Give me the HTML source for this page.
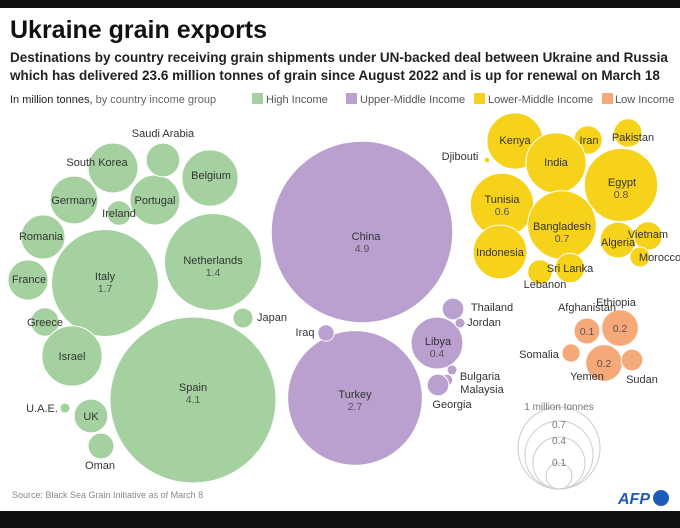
<!DOCTYPE html>
<html><head><meta charset="utf-8"><style>
body{margin:0;width:680px;height:528px;background:#fff;overflow:hidden;font-family:"Liberation Sans",sans-serif}
#top{position:absolute;left:0;top:0;width:680px;height:8px;background:#111}
#bot{position:absolute;left:0;top:511px;width:680px;height:17px;background:#111}
svg{position:absolute;left:0;top:0}
</style></head><body>
<div id="top"></div>
<svg id="chart" width="680" height="528">
<text x="10" y="38" font-size="25" font-weight="bold" fill="#111">Ukraine grain exports</text>
<text x="10" y="62" font-size="13.5" font-weight="bold" fill="#222">Destinations by country receiving grain shipments under UN-backed deal between Ukraine and Russia</text>
<text x="10" y="80" font-size="13.5" font-weight="bold" fill="#222">which has delivered 23.6 million tonnes of grain since August 2022 and is up for renewal on March 18</text>
<g font-size="11" fill="#555">
<text x="10" y="103" fill="#222">In million tonnes, <tspan fill="#666">by country income group</tspan></text>
<rect x="252" y="93" width="11" height="11" fill="#a5d0a0"/><text x="266" y="103">High Income</text>
<rect x="346" y="93" width="11" height="11" fill="#b9a0cf"/><text x="360" y="103">Upper-Middle Income</text>
<rect x="474" y="93" width="11" height="11" fill="#f6d21a"/><text x="488" y="103">Lower-Middle Income</text>
<rect x="602" y="93" width="11" height="11" fill="#f5a878"/><text x="615" y="103">Low Income</text>
</g>
<g id="bubbles"></g>
<g fill="none" stroke="#ccc">
<circle cx="559" cy="448" r="41"/>
<circle cx="559" cy="455" r="34"/>
<circle cx="559" cy="463" r="26"/>
<circle cx="559" cy="476" r="13"/>
</g>
<g font-size="10" fill="#777" text-anchor="middle">
<text x="559" y="410">1 million tonnes</text>
<text x="559" y="428">0.7</text>
<text x="559" y="444">0.4</text>
<text x="559" y="466">0.1</text>
</g>
<text x="12" y="498" font-size="9" fill="#888">Source: Black Sea Grain Initiative as of March 8</text>
<text x="618" y="504" font-size="16" font-weight="bold" font-style="italic" fill="#1e5bb8">AFP</text>
<circle cx="661" cy="498" r="8" fill="#1e5bb8"/>
</svg>
<div id="bot"></div>
<script>
const countries=["Spain","Italy","Netherlands","Belgium","Portugal","Saudi Arabia","South Korea","Germany","Ireland","Romania","France","Greece","Israel","Japan","U.A.E.","UK","Oman",
"China","Turkey","Libya","Thailand","Jordan","Iraq","Bulgaria","Malaysia","Georgia",
"Kenya","Iran","Pakistan","Djibouti","India","Egypt","Tunisia","Bangladesh","Algeria","Vietnam","Morocco","Indonesia","Sri Lanka","Lebanon",
"Ethiopia","Afghanistan","Somalia","Yemen","Sudan"];
const values=[4.1,1.7,1.4,0.47,0.37,0.17,0.37,0.34,0.09,0.29,0.24,0.12,0.54,0.06,0.015,0.17,0.1,
4.9,2.7,0.4,0.07,0.015,0.04,0.015,0.02,0.07,
0.47,0.12,0.12,0.005,0.54,0.8,0.6,0.7,0.19,0.12,0.06,0.43,0.13,0.09,
0.2,0.1,0.05,0.2,0.07];
const groups=["H","H","H","H","H","H","H","H","H","H","H","H","H","H","H","H","H",
"U","U","U","U","U","U","U","U","U",
"L","L","L","L","L","L","L","L","L","L","L","L","L","L",
"W","W","W","W","W"];
const printed=["4.1","1.7","1.4","","","","","","","","","","","","","","","4.9","2.7","0.4","","","","","","","","","","","","0.8","0.6","0.7","","","","","","","0.2","0.1","","0.2",""];
// layout (bubble centers, label positions) — not data
const cx=[193,105,213,210,155,163,113,74,119,43,28,45,72,243,65,91,101, 362,355,437,453,460,326,452,447,438, 515,588,628,487,556,621,502,562,618,648,640,500,570,540, 620,587,571,604,632];
const cy=[400,283,262,178,200,160,168,200,213,237,280,322,356,318,408,416,446, 232,398,343,309,323,333,370,380,385, 141,140,133,160,163,185,205,225,240,236,257,252,268,272, 328,331,353,363,360];
const lx=[193,105,213,211,155,163,97,74,119,41,29,45,72,272,42,91,100, 366,355,438,492,484,305,480,482,452, 515,589,633,460,556,622,502,562,618,648,660,500,570,545, 616,587,539,587,642];
const ly=[391,280,264,179,204,137,166,204,217,240,283,326,360,321,412,420,469, 240,398,345,311,326,336,380,393,408, 144,144,141,160,166,186,203,230,246,238,261,256,272,288, 306,311,358,380,383];
const colors={H:"#a5d0a0",U:"#b9a0cf",L:"#f6d21a",W:"#f5a878"};
const rScale=v=>41*Math.sqrt(v);
const NS="http://www.w3.org/2000/svg";
const g=document.getElementById("bubbles");
countries.forEach((c,i)=>{
  const ci=document.createElementNS(NS,"circle");
  ci.setAttribute("cx",cx[i]);ci.setAttribute("cy",cy[i]);ci.setAttribute("r",Math.max(2.5,rScale(values[i])));
  ci.setAttribute("fill",colors[groups[i]]);ci.setAttribute("stroke","#fff");ci.setAttribute("stroke-width","1");
  
  
  g.appendChild(ci);
});
countries.forEach((c,i)=>{
  const t=document.createElementNS(NS,"text");
  t.setAttribute("x",lx[i]);t.setAttribute("y",ly[i]);t.setAttribute("text-anchor","middle");
  t.setAttribute("font-size","11");t.setAttribute("fill","#333");t.textContent=c;
  
  
  g.appendChild(t);
  if(printed[i]){
    const v=document.createElementNS(NS,"text");
    v.setAttribute("x",cx[i]);v.setAttribute("y",(i>=40?cy[i]+4:ly[i]+12));v.setAttribute("text-anchor","middle");
    v.setAttribute("font-size","10.5");v.setAttribute("fill","#555");v.textContent=printed[i];
    
    
    g.appendChild(v);
  }
});
</script>
</body></html>
